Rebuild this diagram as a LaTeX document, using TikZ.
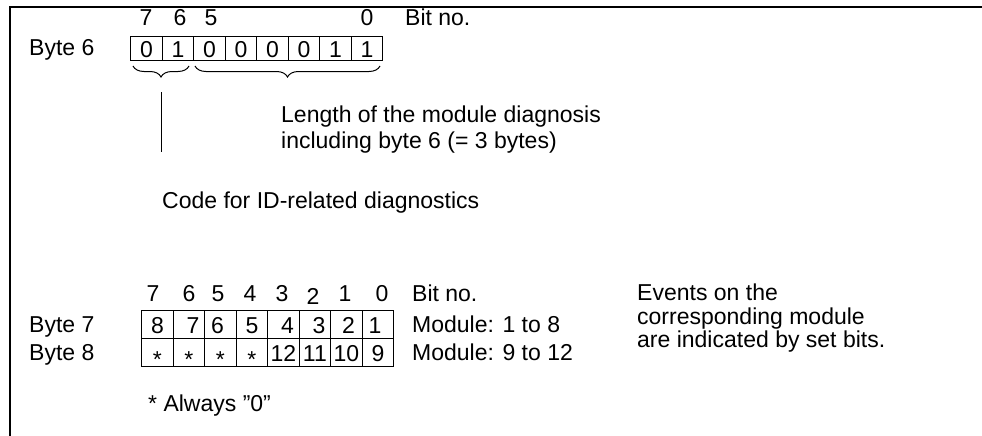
\documentclass[tikz,border=0pt]{standalone}
\usepackage{fontspec}
\setmainfont{Liberation Sans}
\usetikzlibrary{decorations.pathreplacing}
\begin{document}
\begin{tikzpicture}[x=1pt,y=-1pt,
  font=\fontsize{23}{24}\selectfont,
  txt/.style={inner sep=0pt, anchor=base west},
  num/.style={inner sep=0pt, anchor=base},
  cellA/.style={draw, line width=1.3pt, minimum width=31.5pt, minimum height=24pt, inner sep=0pt, anchor=north west},
  cellB/.style={draw, line width=1.3pt, minimum width=31.5pt, minimum height=28pt, inner sep=0pt, anchor=north west},
  frame/.style={line width=1.8pt},
  lbrace/.style={decorate, decoration={brace, mirror, amplitude=11pt}, line width=1pt},
  conn/.style={line width=1pt}]
\useasboundingbox (0,0) rectangle (982,436);
% frame
\coordinate (fa) at (10,436);
\coordinate (fb) at (10,7);
\coordinate (fc) at (982,7);
\draw[frame] (fa) -- (fb) -- (fc);

% ---------- Byte 6 ----------
\node[num] (t7) at (146,26) {7};
\node[num] (t6) at (180,26) {6};
\node[num] (t5) at (211,26) {5};
\node[num] (t0) at (367,26) {0};
\node[txt] (tbit) at (405,26) {Bit no.};
\node[txt] (byte6) at (29,56) {Byte 6};
\foreach \v [count=\i from 0] in {0,1,0,0,0,0,1,1} {
  \node[cellA] (a\i) at (130+31.5*\i,36) {};
  \node[num] (av\i) at ([yshift=-8.5pt]a\i.center) {\v};
}
\coordinate (blA) at (133,66);
\coordinate (blB) at (189,66);
\coordinate (brA) at (195,66);
\coordinate (brB) at (380,66);
\draw[lbrace] (blA) -- (blB);
\draw[lbrace] (brA) -- (brB);
\coordinate (vtop) at (161,92);
\coordinate (vbot) at (161,152);
\draw[conn] (vtop) -- (vbot);
\node[txt] (len1) at (281,122) {Length of the module diagnosis};
\node[txt] (len2) at (281,148) {including byte 6 (= 3 bytes)};
\node[txt] (code) at (162,208) {Code for ID-related diagnostics};

% ---------- Byte 7 / 8 ----------
\foreach \b/\x/\dy in {7/153/0,6/189/0,5/218/0,4/250/0,3/282/0,2/313/3,1/345/0,0/382/0} {
  \node[num] (s\b) at (\x,301+\dy) {\b};
}
\node[txt] (sbit) at (412,301) {Bit no.};
\node[txt] (byte7) at (29,332) {Byte 7};
\node[txt] (byte8) at (29,360) {Byte 8};
\foreach \v/\dx [count=\i from 0] in {8/0,7/4,6/-3,5/0,4/4,3/4,2/2,1/-3} {
  \node[cellB] (c\i) at (141+31.5*\i,310) {};
  \node[num] (cv\i) at ([xshift=\dx pt, yshift=-8.5pt]c\i.center) {\v};
}
\foreach \v/\dx [count=\i from 0] in {{\raisebox{-0.5ex}{*}}/0,{\raisebox{-0.5ex}{*}}/0,{\raisebox{-0.5ex}{*}}/0,{\raisebox{-0.5ex}{*}}/0,12/0,11/0,10/0,9/0} {
  \node[cellB] (d\i) at (141+31.5*\i,338) {};
  \node[num] (dv\i) at ([xshift=\dx pt, yshift=-8.5pt]d\i.center) {\v};
}
\node[txt] (m1) at (412,332) {Module: 1 to 8};
\node[txt] (m2) at (412,360) {Module: 9 to 12};
\node[txt] (ev1) at (637,300) {Events on the};
\node[txt] (ev2) at (637,324) {corresponding module};
\node[txt] (ev3) at (637,347) {are indicated by set bits.};
\node[txt] (always) at (148,411) {* Always ”0”};
\end{tikzpicture}
\end{document}
